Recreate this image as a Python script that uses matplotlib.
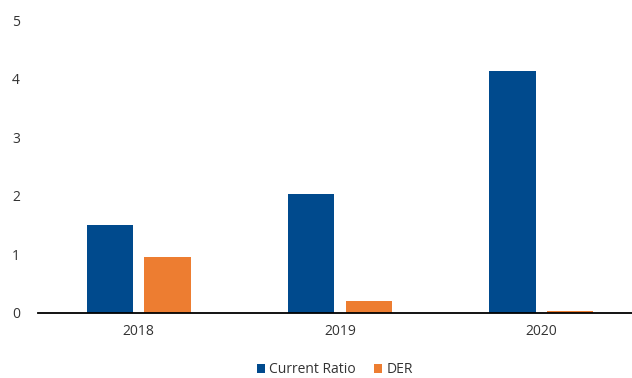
import numpy as np
import matplotlib.pyplot as plt

years = ["2018", "2019", "2020"]
current_ratio = [1.50, 2.03, 4.13]
der = [0.96, 0.20, 0.03]

plt.rcParams['font.family'] = ['Open Sans', 'DejaVu Sans']

fig = plt.figure(figsize=(6.32, 3.78), dpi=100)
ax = fig.add_axes([0.060, 0.172, 0.94, 0.775])

x = np.arange(len(years))
w = 0.23
ax.bar(x - 0.143, current_ratio, w, color='#004A8D', label='Current Ratio')
ax.bar(x + 0.143, der, w, color='#ED7D31', label='DER')

ax.set_xlim(-0.5, 2.45)
ax.set_ylim(0, 5)
ax.set_yticks(range(6))
ax.set_xticks(x)
ax.set_xticklabels(years)
ax.tick_params(length=0, labelsize=10, colors='#333333')
ax.tick_params(axis='y', pad=13)
ax.tick_params(axis='x', pad=8)
for s in ['top', 'right', 'left']:
    ax.spines[s].set_visible(False)
ax.spines['bottom'].set_linewidth(1.3)

fig.legend(loc='center', bbox_to_anchor=(0.53, 0.022), ncol=2, frameon=False,
           fontsize=10, handlelength=0.6, handleheight=0.6, columnspacing=1.3,
           handletextpad=0.3, labelcolor='#333333')

fig.savefig("out.png", dpi=100)
